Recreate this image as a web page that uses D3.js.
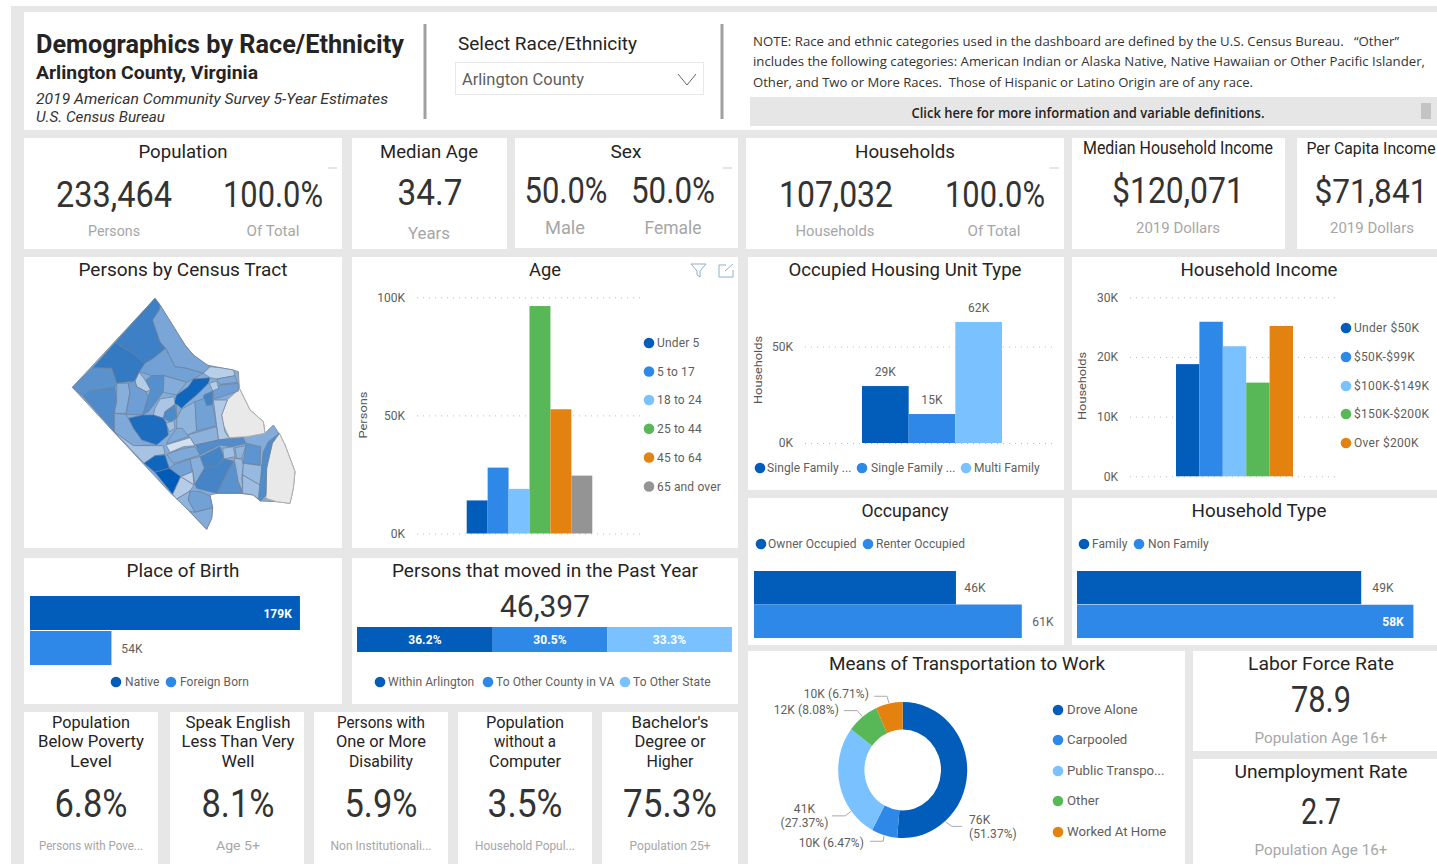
<!DOCTYPE html>
<html><head><meta charset="utf-8">
<script src="https://cdn.jsdelivr.net/npm/d3@7"></script>
<style>html,body{margin:0;padding:0;background:#fff;overflow:hidden}svg{display:block}text{font-family:Roboto,sans-serif}</style>
</head><body><svg id="c" width="1437" height="864"></svg>
<script>
// ---------- data ----------
const palette = ["#015cba","#2e88e8","#79c1ff","#58b858","#e3820f","#949494"];
const ageCats = ["Under 5","5 to 17","18 to 24","25 to 44","45 to 64","65 and over"];
const ageVals = [14000,27900,18900,96300,52600,24500];
const housingCats = ["Single Family ...","Single Family ...","Multi Family"];
const housingVals = [29500,15000,62700];
const housingLabels = ["29K","15K","62K"];
const incomeCats = ["Under $50K","$50K-$99K","$100K-$149K","$150K-$200K","Over $200K"];
const incomeVals = [18800,25900,21800,15700,25200];
const occupancyCats = ["Owner Occupied","Renter Occupied"];
const occupancyVals = [46000,61000];
const hhTypeCats = ["Family","Non Family"];
const hhTypeVals = [49000,58000];
const birthCats = ["Native","Foreign Born"];
const birthVals = [179000,54000];
const movedCats = ["Within Arlington","To Other County in VA","To Other State"];
const movedPct = [36.2,30.5,33.3];
const transportCats = ["Drove Alone","Carpooled","Public Transpo...","Other","Worked At Home"];
const transportPct = [51.37,6.47,27.37,8.08,6.71];
// census tract rings in map units, with persons per tract
const countyRing = [[405,130],[420,150],[445,190],[470,230],[495,270],[520,300],[560,330],[600,338],[640,345],[655,350],[658,400],[690,465],[730,500],[735,535],[760,510],[780,540],[795,570],[810,610],[825,650],[820,700],[810,745],[770,740],[720,738],[700,720],[660,715],[590,715],[570,720],[578,760],[575,790],[560,823],[470,730],[455,718],[157,397]];
const noTractRings = [
 [[655,405],[622,435],[605,480],[610,510],[628,548],[680,545],[735,535],[730,500],[690,465],[658,400]],
 [[778,535],[795,570],[810,610],[825,650],[820,700],[810,745],[770,740],[738,730],[740,640],[757,565]]
];
const tracts = [
 [4500,[[405,130],[420,150],[418,165],[398,195],[408,225],[420,260],[437,280],[400,310],[375,325],[358,350],[330,290],[285,263]]],
 [4750,[[285,263],[330,290],[375,325],[358,350],[345,378],[290,385],[275,340],[218,338]]],
 [3800,[[218,338],[275,340],[290,385],[285,397],[205,410],[190,425],[157,397]]],
 [4050,[[190,425],[205,410],[285,397],[290,440],[283,475],[283,531]]],
 [3000,[[418,165],[420,150],[445,190],[470,230],[495,270],[520,300],[570,335],[550,355],[500,340],[465,335],[437,280],[420,260],[408,225],[398,195]]],
 [3200,[[437,280],[465,335],[500,340],[550,355],[520,372],[500,382],[432,362],[395,362],[358,350],[375,325],[400,310]]],
 [1700,[[358,352],[375,375],[392,405],[378,410],[350,395],[345,378]]],
 [2700,[[290,385],[325,385],[330,410],[318,475],[283,475],[290,440]]],
 [3300,[[325,385],[345,378],[350,395],[378,410],[385,425],[368,480],[318,478],[330,415]]],
 [3900,[[395,362],[432,362],[430,410],[405,445],[385,470],[368,480],[385,425],[392,405],[378,375]]],
 [2800,[[432,362],[500,382],[470,420],[430,412]]],
 [5600,[[470,420],[505,395],[520,372],[570,368],[565,385],[530,420],[500,445],[485,460],[462,445]]],
 [1600,[[570,335],[600,338],[640,345],[645,362],[590,372],[570,368],[550,355]]],
 [2900,[[590,372],[645,362],[652,382],[600,388]]],
 [3300,[[600,390],[655,385],[655,408],[605,425],[580,432],[578,408]]],
 [1700,[[568,385],[590,378],[596,400],[578,408]]],
 [4400,[[552,420],[578,408],[578,448],[560,452],[550,435]]],
 [1900,[[405,460],[420,432],[462,425],[465,447],[435,470],[430,490],[400,480]]],
 [4100,[[435,470],[465,450],[470,490],[450,500],[430,490]]],
 [2900,[[470,447],[485,462],[470,490]]],
 [5300,[[325,490],[368,480],[400,480],[430,490],[440,505],[445,540],[410,570],[365,555],[340,520]]],
 [2900,[[283,475],[318,478],[325,490],[340,520],[365,555],[410,570],[340,572],[283,531]]],
 [2000,[[340,572],[430,572],[435,598],[405,602],[372,625],[283,531]]],
 [5600,[[372,625],[405,602],[435,600],[448,640],[405,652]]],
 [6000,[[405,652],[448,640],[470,640],[482,665],[458,718]]],
 [2100,[[438,505],[462,497],[465,520],[448,530]]],
 [2500,[[485,462],[525,440],[530,528],[503,540],[470,520],[470,490]]],
 [3200,[[525,440],[552,430],[560,452],[578,450],[590,512],[530,528]]],
 [1800,[[580,435],[622,435],[605,480],[615,530],[628,550],[595,555],[590,512]]],
 [2600,[[503,540],[590,515],[595,555],[525,570]]],
 [2900,[[445,555],[470,520],[488,520],[505,545],[440,567]]],
 [1000,[[438,570],[510,548],[525,572],[490,575],[450,592]]],
 [4000,[[528,570],[595,555],[670,548],[678,565],[635,575],[600,570],[540,600]]],
 [2900,[[440,598],[490,580],[525,575],[540,600],[510,610],[460,625]]],
 [4300,[[540,605],[600,575],[612,610],[590,632],[553,640]]],
 [2100,[[608,580],[640,575],[645,605],[612,612]]],
 [3200,[[448,640],[460,630],[510,612],[518,650],[482,665]]],
 [2700,[[510,612],[540,605],[553,640],[525,688],[518,650]]],
 [1500,[[482,665],[518,650],[522,690]]],
 [1700,[[458,718],[482,665],[522,690],[510,708],[470,732]]],
 [4300,[[553,640],[590,632],[612,612],[640,618],[625,645],[590,715],[530,700],[525,688]]],
 [3800,[[640,618],[660,660],[665,715],[590,715],[625,650]]],
 [2500,[[645,578],[678,572],[665,610],[650,610]]],
 [2300,[[642,610],[665,612],[670,630],[665,670],[670,715],[655,680]]],
 [3700,[[678,565],[722,575],[720,630],[670,625]]],
 [2300,[[670,625],[725,632],[728,695],[668,660]]],
 [2200,[[668,660],[728,695],[722,738],[700,720],[668,715]]],
 [4000,[[778,535],[757,565],[740,640],[738,720],[722,738],[715,730],[730,590],[745,560]]],
 [2500,[[470,732],[510,708],[505,735],[525,772],[510,770]]],
 [3200,[[510,708],[540,710],[570,722],[578,758],[525,772],[505,735]]],
 [2800,[[525,772],[578,758],[575,790],[560,823],[510,770]]]
];

// ---------- helpers ----------
const svg = d3.select("#c");
const INK="#252423", GREY="#605e5c", PALE="#a6a6a6";
function T(x,y,s,o={}){
  const t=svg.append("text").attr("x",x).attr("y",y).text(s)
   .attr("font-size",o.size||12).attr("fill",o.fill||GREY)
   .attr("text-anchor",o.anchor||"middle").attr("letter-spacing",o.ls==null?(o.w?null:0.08):o.ls);
  if(o.weight)t.attr("font-weight",o.weight);
  if(o.italic)t.attr("font-style","italic");
  if(o.family)t.style("font-family",o.family);
  if(o.w)t.attr("textLength",o.w).attr("lengthAdjust","spacingAndGlyphs");
  if(o.rot)t.attr("transform",`rotate(${o.rot} ${x} ${y})`);
  return t;
}
function panel(x0,y0,x1,y1){svg.append("rect").attr("x",x0).attr("y",y0).attr("width",x1-x0).attr("height",y1-y0).attr("fill","#fff");}
function legend(items,colors,xs,ys,tx,size,ls){items.forEach((d,i)=>{
  svg.append("circle").attr("cx",xs[i]).attr("cy",ys[i]).attr("r",5.3).attr("fill",colors[i]);
  T(tx[i],ys[i]+4,d,{anchor:"start",size:size||12,ls});});}
function title(cx,y,s,w){T(cx,y,s,{size:19,fill:INK,w});}
function big(cx,y,s,w,size){T(cx,y,s,{size:size||36,fill:"#333",w});}
function sub(cx,y,s,w,size){T(cx,y,s,{size:size||15.5,fill:PALE,w});}
function dash(x){svg.append("rect").attr("x",x).attr("y",167.5).attr("width",9).attr("height",1).attr("fill","#ccc");}

// ---------- page ----------
svg.append("rect").attr("x",11).attr("y",6).attr("width",1426).attr("height",858).attr("fill","#e7e7e7");
[[24,12,1437,130],[24,138,342,249],[352,138,507,249],[515,138,738,248],[746,138,1064,249],[1072,138,1285,249],[1297,138,1437,249],
 [24,257,342,548],[352,257,738,548],[748,257,1064,490],[1072,257,1437,490],[748,498,1064,645],[1072,498,1437,645],
 [24,558,342,704],[352,558,738,704],[24,712,158,864],[170,712,304,864],[314,712,448,864],[458,712,592,864],[602,712,738,864],
 [748,651,1185,864],[1193,651,1437,751],[1193,759,1437,864]].forEach(p=>panel(...p));

// header
T(36,53,"Demographics by Race/Ethnicity",{anchor:"start",size:26,weight:700,fill:INK,w:368});
T(36,79,"Arlington County, Virginia",{anchor:"start",size:19,weight:700,fill:INK,w:222});
T(36,104,"2019 American Community Survey 5-Year Estimates",{anchor:"start",size:14.5,italic:true,fill:"#333",w:352});
T(36,122,"U.S. Census Bureau",{anchor:"start",size:14.5,italic:true,fill:"#333",w:129});
[425,722].forEach(x=>svg.append("rect").attr("x",x-1.5).attr("y",24).attr("width",3).attr("height",95).attr("fill","#a0a0a0"));
T(458,50,"Select Race/Ethnicity",{anchor:"start",size:19,fill:INK,w:179});
svg.append("rect").attr("x",455.5).attr("y",62.5).attr("width",248).attr("height",32).attr("fill","none").attr("stroke","#e8e8e8");
T(462,85,"Arlington County",{anchor:"start",size:16.5,fill:GREY,w:122});
svg.append("path").attr("d",d3.line()([[678,74],[687,85],[696,74]])).attr("fill","none").attr("stroke","#666").attr("stroke-width",1);
const noteFont="'Open Sans',sans-serif";
T(753,46,"NOTE: Race and ethnic categories used in the dashboard are defined by the U.S. Census Bureau.   “Other”",{anchor:"start",size:13.2,fill:"#333",family:noteFont,w:646}).style("white-space","pre");
T(753,66,"includes the following categories: American Indian or Alaska Native, Native Hawaiian or Other Pacific Islander,",{anchor:"start",size:12.9,fill:"#333",family:noteFont,w:672});
T(753,87,"Other, and Two or More Races.  Those of Hispanic or Latino Origin are of any race.",{anchor:"start",size:13.2,fill:"#333",family:noteFont,w:500}).style("white-space","pre");
svg.append("rect").attr("x",750).attr("y",97).attr("width",687).attr("height",29).attr("fill","#e6e6e6");
svg.append("rect").attr("x",1421).attr("y",103).attr("width",10).attr("height",16).attr("fill","#c4c4c4");
T(1088,118,"Click here for more information and variable definitions.",{size:13.5,weight:600,fill:"#222",family:noteFont,w:353});

// KPI cards
title(183,158,"Population",89); big(114,207,"233,464",116); big(273,207,"100.0%",100);
sub(114,236,"Persons",52); sub(273,236,"Of Total",53); dash(328);
title(429,158,"Median Age",98); big(430,205,"34.7",65); sub(429,239,"Years",42,17);
title(626,158,"Sex",31); big(566,203,"50.0%",83); big(673,203,"50.0%",84);
sub(565,234,"Male",40,17.5); sub(673,234,"Female",57,17.5); dash(723);
title(905,158,"Households",100); big(836,207,"107,032",114); big(995,207,"100.0%",100);
sub(835,236,"Households",79); sub(994,236,"Of Total",53); dash(1050);
T(1178,154,"Median Household Income",{size:17.5,fill:INK,w:190}); big(1178,203,"$120,071",132); sub(1178,233,"2019 Dollars",84);
T(1371,154,"Per Capita Income",{size:16,fill:INK,w:129}); big(1371,203,"$71,841",113,33); sub(1372,233,"2019 Dollars",84);

// bottom cards
[[91,["Population","Below Poverty","Level"],"6.8%",73,"Persons with Pove...",104,[78,106,42]],
 [238,["Speak English","Less Than Very","Well"],"8.1%",73,"Age 5+",44,[105,113,33]],
 [381,["Persons with","One or More","Disability"],"5.9%",73,"Non Institutionali...",101,[88,90,64]],
 [525,["Population","without a","Computer"],"3.5%",75,"Household Popul...",100,[78,62,72]],
 [670,["Bachelor's","Degree or","Higher"],"75.3%",94,"Population 25+",81,[77,71,47]]
].forEach(([cx,ls,v,vw,s,sw,lw])=>{
  ls.forEach((l,i)=>T(cx,728+i*19.3,l,{size:17,fill:INK,w:lw[i]}));
  big(cx,817,v,vw,38); sub(cx,850,s,sw,12.5);
});

// right KPIs
title(1321,670,"Labor Force Rate",146); big(1321,712,"78.9",60); sub(1321,743,"Population Age 16+",133);
title(1321,778,"Unemployment Rate",173); big(1321,824,"2.7",40); sub(1321,855,"Population Age 16+",133);

// chart titles
title(183,276,"Persons by Census Tract",209); title(545,276,"Age",32);
title(905,276,"Occupied Housing Unit Type",233); title(1259,276,"Household Income",157);
title(905,517,"Occupancy",87); title(1259,517,"Household Type",135);
title(183,577,"Place of Birth",113); title(545,577,"Persons that moved in the Past Year",306);
title(967,670,"Means of Transportation to Work",276);

// ---------- map ----------
const proj=d3.geoIdentity().scale(1/3).translate([20,255]);
const geo=d3.geoPath(proj);
const tractColor=d3.scaleLinear().domain([1000,3000,4500,6000]).range(["#d3e0f0","#7aa6d7","#3d80c5","#005cb9"]);
const poly=r=>({type:"Polygon",coordinates:[r.concat([r[0]])]});
svg.append("path").datum(poly(countyRing)).attr("d",geo).attr("fill",tractColor(2800)).attr("stroke","#8a949e").attr("stroke-width",1);
svg.append("g").selectAll("path").data(noTractRings).join("path").attr("d",d=>geo(poly(d))).attr("fill","#e9e9e9").attr("stroke","#b0b0b0").attr("stroke-width",1);
svg.append("g").selectAll("path").data(tracts).join("path")
  .attr("d",d=>geo(poly(d[1]))).attr("fill",d=>tractColor(d[0])).attr("stroke","#6f8097").attr("stroke-width",.7).attr("stroke-linejoin","round");

// ---------- column charts ----------
function axisY(x0,x1,y,vals){
  const a=d3.axisLeft(y).tickValues(vals).tickSize(x0-x1).tickPadding(12).tickFormat(d=>d/1000+"K");
  const g=svg.append("g").attr("transform",`translate(${x0},0)`).call(a);
  g.select(".domain").remove();
  g.selectAll("line").attr("stroke","#bbb").attr("stroke-dasharray","1 5");
  g.selectAll("text").attr("font-size",12).attr("fill",GREY);
}
function columns(cats,vals,x0,x1,y){
  const x=d3.scaleBand().domain(d3.range(cats.length)).range([x0,x1]);
  svg.append("g").selectAll("rect").data(vals).join("rect")
   .attr("x",(d,i)=>x(i)).attr("width",x.bandwidth()).attr("y",d=>y(d)).attr("height",d=>y(0)-y(d))
   .attr("fill",(d,i)=>palette[i]);
  return x;
}
// age
const yAge=d3.scaleLinear().domain([0,100000]).range([533.5,297.3]);
axisY(417,643,yAge,[0,50000,100000]);
columns(ageCats,ageVals,466.7,592.3,yAge);
T(367,415,"Persons",{size:11.5,rot:-90,fill:"#555",w:47});
legend(ageCats,palette,ageCats.map(()=>649),[343,371.5,400,428.7,457.5,486.5],ageCats.map(()=>657),12,.15);
// filter + focus icons
svg.append("path").attr("d",d3.line()([[691,264],[706,264],[700,271],[700,277],[697,275],[697,271],[691,264]])).attr("fill","none").attr("stroke","#8db0c8");
svg.append("path").attr("d",d3.line()([[726,265],[719,265],[719,277],[733,277],[733,270]])).attr("fill","none").attr("stroke","#8db0c8");
svg.append("path").attr("d",d3.line()([[725,271],[733,264]])).attr("fill","none").attr("stroke","#8db0c8");
// housing
const yHouse=d3.scaleLinear().domain([0,50000]).range([443,346.5]);
axisY(805,1054,yHouse,[0,50000]);
const xHouse=columns(housingCats,housingVals,862,1002,yHouse);
housingVals.forEach((v,i)=>T(xHouse(i)+xHouse.bandwidth()/2,yHouse(v)-10,housingLabels[i]));
T(762,370,"Households",{size:11.5,rot:-90,fill:"#555",w:68});
legend(housingCats,palette,[760,862,966],[468,468,468],[767,871,974]);
// income
const yInc=d3.scaleLinear().domain([0,30000]).range([476.3,297.3]);
axisY(1130,1335,yInc,[0,10000,20000,30000]);
columns(incomeCats,incomeVals,1176,1293,yInc);
T(1086,386,"Households",{size:11.5,rot:-90,fill:"#555",w:68});
legend(incomeCats,palette,incomeCats.map(()=>1346),[328,357,386,414,443],incomeCats.map(()=>1354),12,.3);

// ---------- horizontal bars ----------
function hbars(vals,x0,pxPerK,y0,y1,gap){
  const x=d3.scaleLinear().domain([0,1000]).range([x0,x0+pxPerK*1000]);
  const y=d3.scaleBand().domain(d3.range(vals.length)).range([y0,y1]);
  svg.append("g").selectAll("rect").data(vals).join("rect")
   .attr("x",x0).attr("y",(d,i)=>y(i)).attr("width",d=>x(d/1000)-x0).attr("height",y.bandwidth()-gap)
   .attr("fill",(d,i)=>palette[i]);
  return {x,y};
}
hbars(occupancyVals,754,4.39,571,638,0);
T(975,592,"46K",{}); T(1043,626,"61K",{});
legend(occupancyCats,palette,[761,868],[544,544],[768,876]);
hbars(hhTypeVals,1077,5.8,571,638.5,0.5);
T(1383,592,"49K",{}); T(1393,626,"58K",{fill:"#fff",weight:700});
legend(hhTypeCats,palette,[1084,1139],[544,544],[1092,1148]);
hbars(birthVals,30,1.508,596,666,1);
T(292,618,"179K",{fill:"#fff",weight:700,anchor:"end"}); T(132,653,"54K",{});
legend(birthCats,palette,[116,171],[682,682],[125,180]);

// moved stacked
big(545,617,"46,397",90,32);
const xMoved=d3.scaleLinear().domain([0,100]).range([357,732]);
const stack=d3.cumsum(movedPct);
movedPct.forEach((v,i)=>{
  const a=i?stack[i-1]:0,b=stack[i];
  svg.append("rect").attr("x",xMoved(a)).attr("y",627).attr("width",xMoved(b)-xMoved(a)).attr("height",25).attr("fill",palette[i]);
  T((xMoved(a)+xMoved(b))/2,644,v.toFixed(1)+"%",{fill:"#fff",weight:700,size:12});
});
legend(movedCats,palette,[380,488,625],[682,682,682],[388,496,633]);

// ---------- donut ----------
const cx=902.7,cy=770,ky=1.055,R=64.5,r=38.3;
const pie=d3.pie().sort(null)(transportPct);
const arc=d3.arc().innerRadius(r).outerRadius(R);
const dg=svg.append("g").attr("transform",`translate(${cx},${cy}) scale(1,${ky})`);
dg.selectAll("path").data(pie).join("path").attr("d",arc).attr("fill",(d,i)=>palette[i]);
// leader lines: angle on the rim, elbow offset, horizontal run
[[139,6.6,4.6,10],[196.8,-.6,5.6,-13.4],[232.8,-5.7,4.4,-13.3],[321.5,-5,-5.7,-13.4],[347.8,-2,-6.7,-12.7]].forEach(([deg,ex,ey,run])=>{
  const a=deg*Math.PI/180, sx=cx+Math.sin(a)*(R+.5), sy=cy-Math.cos(a)*(R+.5)*ky;
  svg.append("path").attr("d",d3.line()([[sx,sy],[sx+ex,sy+ey],[sx+ex+run,sy+ey]])).attr("fill","none").attr("stroke","#aaa");
});
T(969,824,"76K",{anchor:"start"}); T(969,838,"(51.37%)",{anchor:"start"});
T(864,847,"10K (6.47%)",{anchor:"end"});
T(804.5,813,"41K"); T(804.5,827,"(27.37%)");
T(839,714,"12K (8.08%)",{anchor:"end"});
T(869,698,"10K (6.71%)",{anchor:"end"});
legend(transportCats,palette,transportCats.map(()=>1058),[710,740,771,801,832],transportCats.map(()=>1067),13.2,0);
</script></body></html>
